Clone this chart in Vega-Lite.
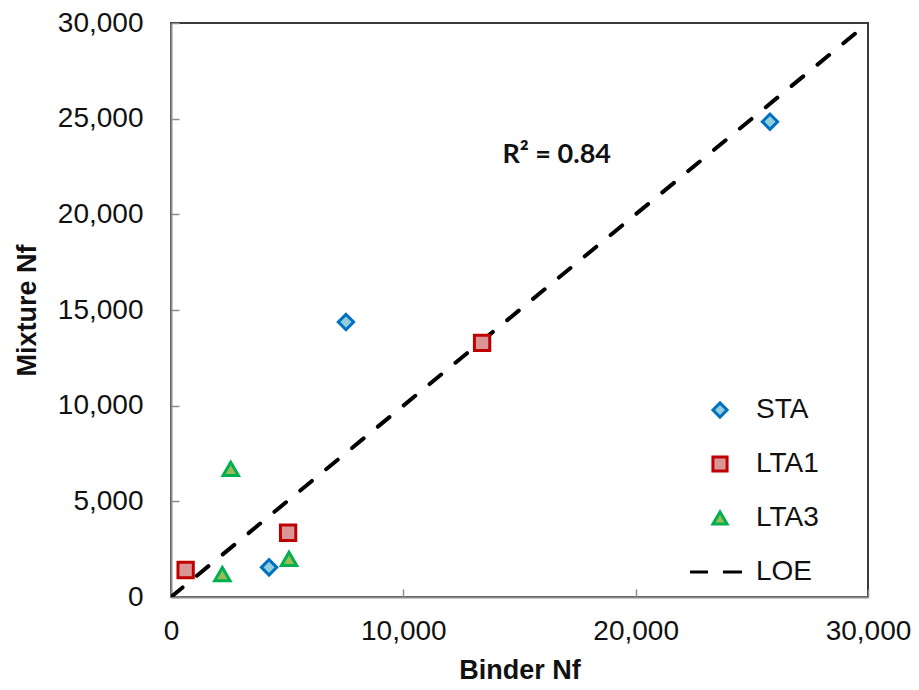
{
  "$schema": "https://vega.github.io/schema/vega-lite/v6.json",
  "autosize": {"type": "none"},
  "padding": {"left": 171, "top": 23, "right": 51, "bottom": 93},
  "width": 697,
  "height": 574,
  "background": "white",
  "config": {
    "font": "Liberation Sans",
    "view": {"stroke": "#3a3a3a", "strokeWidth": 2},
    "axis": {
      "grid": false,
      "domainColor": "#8c8c8c",
      "domainWidth": 2,
      "tickColor": "#8c8c8c",
      "tickWidth": 1.5,
      "tickSize": -8,
      "labelFont": "Liberation Sans",
      "labelFontSize": 28,
      "labelColor": "#111111",
      "labelFlush": false,
      "labelOverlap": false,
      "titleFont": "Liberation Sans",
      "titleFontSize": 27,
      "titleFontWeight": "bold",
      "titleColor": "#111111"
    }
  },
  "datasets": {
    "pts": [
      {"series": "STA", "binder": 25780, "mixture": 24840},
      {"series": "STA", "binder": 7530, "mixture": 14370},
      {"series": "STA", "binder": 4220, "mixture": 1550},
      {"series": "LTA1", "binder": 13390, "mixture": 13280},
      {"series": "LTA1", "binder": 630, "mixture": 1410},
      {"series": "LTA1", "binder": 5040, "mixture": 3360},
      {"series": "LTA3", "binder": 2570, "mixture": 6700},
      {"series": "LTA3", "binder": 2210, "mixture": 1190},
      {"series": "LTA3", "binder": 5080, "mixture": 1990}
    ],
    "loe": [
      {"binder": 0, "mixture": 0},
      {"binder": 29450, "mixture": 29450}
    ],
    "note": [
      {"binder": 16600, "mixture": 23100, "label": "R² = 0.84"}
    ]
  },
  "layer": [
    {
      "data": {"name": "loe"},
      "mark": {"type": "line", "color": "black", "strokeWidth": 4, "strokeDash": [15, 18.5], "strokeCap": "round", "clip": true},
      "encoding": {
        "x": {
          "field": "binder", "type": "quantitative",
          "scale": {"domain": [0, 30000], "nice": false},
          "axis": {"values": [0, 10000, 20000, 30000], "format": ",d", "title": "Binder Nf", "labelPadding": 28, "titlePadding": 12}
        },
        "y": {
          "field": "mixture", "type": "quantitative",
          "scale": {"domain": [0, 30000], "nice": false},
          "axis": {"values": [0, 5000, 10000, 15000, 20000, 25000, 30000], "format": ",d", "title": "Mixture Nf", "labelPadding": 36, "titlePadding": 16}
        }
      }
    },
    {
      "data": {"name": "pts"},
      "mark": {"type": "point", "filled": true, "size": 235, "strokeWidth": 3, "opacity": 1},
      "encoding": {
        "x": {"field": "binder", "type": "quantitative"},
        "y": {"field": "mixture", "type": "quantitative"},
        "shape": {
          "field": "series", "type": "nominal",
          "scale": {"domain": ["STA", "LTA1", "LTA3", "LOE"], "range": ["diamond", "square", "triangle-up", "M-4.24,0H-1.7M0.42,0H3.11"]},
          "legend": {
            "title": null,
            "orient": "none",
            "legendX": 535,
            "legendY": 373,
            "labelFontSize": 28,
            "labelFont": "Liberation Sans",
            "labelColor": "#111111",
            "labelOffset": 22,
            "rowPadding": 26,
            "symbolSize": 200,
            "symbolStrokeWidth": 3
          }
        },
        "fill": {
          "field": "series", "type": "nominal",
          "scale": {"domain": ["STA", "LTA1", "LTA3", "LOE"], "range": ["#92CDDC", "#DA9694", "#9BBB59", "transparent"]}
        },
        "stroke": {
          "field": "series", "type": "nominal",
          "scale": {"domain": ["STA", "LTA1", "LTA3", "LOE"], "range": ["#0070C0", "#C00000", "#00B050", "#000000"]}
        }
      }
    },
    {
      "data": {"name": "note"},
      "mark": {"type": "text", "font": "Lato", "fontSize": 27, "fontWeight": "bold", "color": "#111111", "align": "center", "baseline": "middle"},
      "encoding": {
        "x": {"field": "binder", "type": "quantitative"},
        "y": {"field": "mixture", "type": "quantitative"},
        "text": {"field": "label"}
      }
    }
  ]
}
